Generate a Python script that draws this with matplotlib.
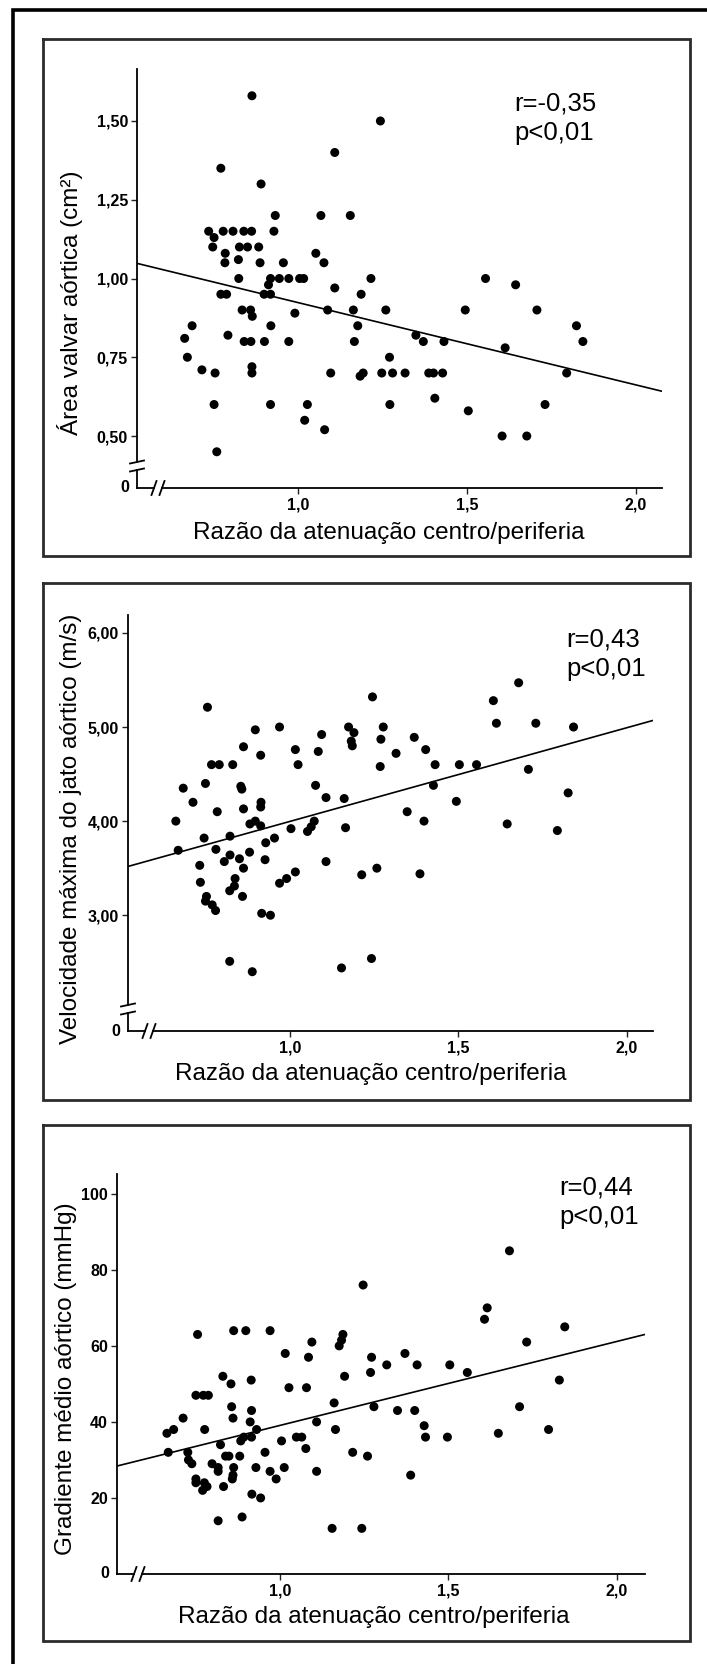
import matplotlib
matplotlib.use('Agg')
import numpy as np
import matplotlib.pyplot as plt

plt.rcParams['font.family'] = ['Liberation Sans', 'DejaVu Sans']

# ---- data ----
x_area = [0.864, 1.244, 1.109, 0.772, 0.891, 0.933, 1.068, 1.155, 0.736, 0.779, 0.808, 0.84, 0.863, 0.929,
          0.752, 0.748, 0.827, 0.851, 0.884, 0.785, 1.053, 0.824, 0.784, 0.888, 0.957, 1.077, 0.825, 0.919,
          0.945, 0.973, 1.005, 1.017, 1.216, 1.555, 0.913, 1.644, 1.109, 0.772, 0.789, 0.9, 0.919, 1.187,
          0.835, 0.86, 1.088, 1.164, 1.26, 1.495, 1.707, 0.865, 0.991, 0.687, 0.92, 1.177, 1.824, 1.349,
          0.793, 0.665, 0.841, 0.861, 0.901, 0.973, 1.167, 1.371, 1.432, 1.843, 1.613, 0.673, 1.271, 0.716,
          0.864, 0.755, 0.864, 1.097, 1.184, 1.193, 1.248, 1.28, 1.317, 1.387, 1.401, 1.428, 1.795, 1.405,
          0.752, 0.919, 1.028, 1.272, 1.731, 1.504, 1.02, 1.079, 1.604, 1.677, 0.76]
y_area = [1.58, 1.50, 1.40, 1.35, 1.30, 1.20, 1.20, 1.20, 1.15, 1.15, 1.15, 1.15, 1.15, 1.15,
          1.13, 1.10, 1.10, 1.10, 1.10, 1.08, 1.08, 1.06, 1.05, 1.05, 1.05, 1.05, 1.00, 1.00,
          1.00, 1.00, 1.00, 1.00, 1.00, 1.00, 0.98, 0.98, 0.97, 0.95, 0.95, 0.95, 0.95, 0.95,
          0.90, 0.90, 0.90, 0.90, 0.90, 0.90, 0.90, 0.88, 0.89, 0.85, 0.85, 0.85, 0.85, 0.82,
          0.82, 0.81, 0.80, 0.80, 0.80, 0.80, 0.80, 0.80, 0.80, 0.80, 0.78, 0.75, 0.75, 0.71,
          0.72, 0.70, 0.70, 0.70, 0.69, 0.70, 0.70, 0.70, 0.70, 0.70, 0.70, 0.70, 0.70, 0.62,
          0.60, 0.60, 0.60, 0.60, 0.60, 0.58, 0.55, 0.52, 0.50, 0.50, 0.45]

x_vel = [1.679, 1.245, 1.604, 0.755, 1.613, 1.73, 0.969, 1.174, 1.277, 1.842, 0.897, 1.19, 1.094, 1.369,
         1.27, 1.182, 1.185, 0.862, 1.016, 1.403, 1.084, 1.315, 0.913, 0.767, 0.79, 0.83, 1.024, 1.268,
         1.431, 1.503, 1.554, 1.708, 0.749, 1.426, 1.076, 0.854, 0.683, 0.857, 1.826, 1.107, 1.161, 0.712,
         1.494, 0.914, 0.913, 0.862, 0.784, 1.348, 1.072, 0.661, 0.897, 1.398, 0.881, 1.645, 1.063, 1.165,
         0.913, 1.003, 1.052, 1.794, 0.822, 0.745, 0.954, 0.928, 0.668, 0.78, 0.88, 0.822, 0.85, 0.805,
         0.926, 1.107, 0.732, 0.862, 1.258, 1.016, 1.213, 1.386, 0.837, 0.99, 0.969, 0.734, 0.835, 0.821,
         0.752, 0.859, 0.749, 0.769, 0.779, 0.916, 0.942, 1.242, 0.821, 1.153, 0.888]
y_vel = [5.47, 5.32, 5.28, 5.21, 5.04, 5.04, 5.00, 5.00, 5.00, 5.00, 4.97, 4.94, 4.92, 4.89,
         4.87, 4.85, 4.80, 4.79, 4.76, 4.76, 4.74, 4.72, 4.70, 4.60, 4.60, 4.60, 4.60, 4.58,
         4.60, 4.60, 4.60, 4.55, 4.40, 4.38, 4.38, 4.37, 4.35, 4.34, 4.30, 4.25, 4.24, 4.20,
         4.21, 4.20, 4.15, 4.13, 4.10, 4.10, 4.00, 4.00, 4.00, 4.00, 3.97, 3.97, 3.94, 3.93,
         3.95, 3.92, 3.89, 3.90, 3.84, 3.82, 3.82, 3.77, 3.69, 3.70, 3.67, 3.64, 3.60, 3.57,
         3.59, 3.57, 3.53, 3.50, 3.50, 3.46, 3.43, 3.44, 3.39, 3.39, 3.34, 3.35, 3.31, 3.26,
         3.20, 3.20, 3.15, 3.11, 3.05, 3.02, 3.00, 2.54, 2.51, 2.44, 2.40]

x_grad = [1.681, 1.247, 1.615, 1.607, 1.845, 0.863, 0.899, 0.971, 0.756, 1.187, 1.183, 1.095, 1.732, 1.176,
          1.016, 1.371, 1.085, 1.272, 1.317, 1.407, 1.504, 1.556, 1.269, 0.831, 1.192, 0.915, 1.829, 0.855,
          1.027, 1.079, 0.751, 0.773, 0.788, 1.161, 0.857, 1.279, 1.711, 1.349, 1.4, 0.916, 0.713, 0.861,
          0.912, 1.109, 1.428, 0.685, 0.777, 0.931, 1.165, 1.797, 0.665, 1.648, 0.893, 0.916, 1.049, 1.065,
          1.432, 1.497, 0.884, 1.005, 0.824, 1.077, 0.669, 0.727, 0.956, 1.216, 0.839, 0.849, 0.881, 1.26,
          0.729, 0.739, 0.799, 0.863, 0.929, 1.013, 0.817, 0.817, 0.971, 1.109, 1.388, 0.861, 0.859, 0.989,
          0.751, 0.751, 0.776, 0.833, 0.784, 0.771, 0.917, 0.943, 0.817, 0.888, 1.155, 1.243]
y_grad = [85, 76, 70, 67, 65, 64, 64, 64, 63, 63, 61.5, 61, 61, 60,
          58, 58, 57, 57, 55, 55, 55, 53, 53, 52, 52, 51, 51, 50,
          49, 49, 47, 47, 47, 45, 44, 44, 44, 43, 43, 43, 41, 41,
          40, 40, 39, 38, 38, 38, 38, 38, 37, 37, 36, 36, 36, 36,
          36, 36, 35, 35, 34, 33, 32, 32, 32, 32, 31, 31, 31, 31,
          30, 29, 29, 28, 28, 28, 28, 27, 27, 27, 26, 26, 25, 25,
          25, 24, 24, 23, 23, 22, 21, 20, 14, 15, 12, 12]

# regression lines (intercept, slope) as drawn in the figure
fit_area = (1.185, -0.2614)
fit_vel = (3.002, 0.995)
fit_grad = (16.97, 22.1)

stats_area = ['r=-0,35', 'p<0,01']
stats_vel = ['r=0,43', 'p<0,01']
stats_grad = ['r=0,44', 'p<0,01']

xticks = [1.0, 1.5, 2.0]
xticklabels = ['1,0', '1,5', '2,0']
yticks_area = [0.50, 0.75, 1.00, 1.25, 1.50]
ylabels_area = ['0,50', '0,75', '1,00', '1,25', '1,50']
yticks_vel = [3.0, 4.0, 5.0, 6.0]
ylabels_vel = ['3,00', '4,00', '5,00', '6,00']
yticks_grad = [20, 40, 60, 80, 100]
ylabels_grad = ['20', '40', '60', '80', '100']

xlabel = 'Razão da atenuação centro/periferia'

W, H = 707, 1664
fig = plt.figure(figsize=(W / 100, H / 100), dpi=100)

# overlay in pixel coordinates for frames, axis lines and labels
ov = fig.add_axes([0, 0, 1, 1], zorder=5)
ov.set_xlim(0, W)
ov.set_ylim(H, 0)
ov.axis('off')
ov.patch.set_alpha(0)

# outer frame (right/bottom run off the image)
ov.plot([12.5, 12.5, W + 5], [H + 5, 9.5, 9.5], color='black', lw=2.6, solid_joinstyle='miter')

panels = [
    dict(box=(43, 39, 690, 556), ax=(137, 69, 662, 488), xlim=(0.524, 2.077), ylim=(0.335, 1.665),
         ybreak=(462, 470), x=x_area, y=y_area, fit=fit_area, yt=yticks_area, ytl=ylabels_area,
         ylabel='Área valvar aórtica (cm²)', ylab_pos=(70, 303), xlab_pos=(389, 533),
         stats=stats_area, stats_pos=(514, 110, 140)),
    dict(box=(43, 583, 690, 1100), ax=(128, 615, 653, 1031), xlim=(0.519, 2.078), ylim=(1.77, 6.19),
         ybreak=(1005, 1013), x=x_vel, y=y_vel, fit=fit_vel, yt=yticks_vel, ytl=ylabels_vel,
         ylabel='Velocidade máxima do jato aórtico (m/s)', ylab_pos=(71, 829), xlab_pos=(371, 1074),
         stats=stats_vel, stats_pos=(566, 647, 676)),
    dict(box=(43, 1125, 690, 1641), ax=(117, 1174, 645, 1574), xlim=(0.517, 2.083), ylim=(0, 105.2),
         ybreak=None, x=x_grad, y=y_grad, fit=fit_grad, yt=yticks_grad, ytl=ylabels_grad,
         ylabel='Gradiente médio aórtico (mmHg)', ylab_pos=(66, 1379), xlab_pos=(374, 1617),
         stats=stats_grad, stats_pos=(559, 1194, 1224)),
]

for p in panels:
    l, t, r, b = p['box']
    ov.plot([l, r, r, l, l], [t, t, b, b, t], color='#2b2b2b', lw=2.0, solid_joinstyle='miter')

    al, at, ar, ab = p['ax']
    ax = fig.add_axes([al / W, 1 - ab / H, (ar - al) / W, (ab - at) / H], zorder=3)
    ax.patch.set_alpha(0)
    for s in ax.spines.values():
        s.set_visible(False)
    ax.set_xlim(*p['xlim'])
    ax.set_ylim(*p['ylim'])
    ax.scatter(p['x'], p['y'], s=42, color='black', edgecolors='none', zorder=3)
    xx = np.array(p['xlim'])
    ax.plot(xx, p['fit'][0] + p['fit'][1] * xx, color='black', lw=1.2, zorder=2)

    ax.set_xticks(xticks)
    ax.set_xticklabels(xticklabels)
    ax.set_yticks(p['yt'])
    ax.set_yticklabels(p['ytl'])
    ax.tick_params(length=4.5, width=1.0, pad=2, labelsize=11.5, color='#222222')
    for lab in ax.get_xticklabels() + ax.get_yticklabels():
        lab.set_fontweight('bold')

    # axis lines with breaks
    if p['ybreak']:
        y1, y2 = p['ybreak']
        ov.plot([al, al], [at, y1], color='black', lw=1.3)
        ov.plot([al, al], [y2, ab], color='black', lw=1.3)
        for yb in (y1, y2):
            ov.plot([al - 7, al + 7], [yb + 1.5, yb - 1.5], color='black', lw=1.3)
    else:
        ov.plot([al, al], [at, ab], color='black', lw=1.3)
    x1, x2 = al + 17, al + 25
    ov.plot([al, x1], [ab, ab], color='black', lw=1.3)
    ov.plot([x2, ar], [ab, ab], color='black', lw=1.3)
    for xb in (x1, x2):
        ov.plot([xb - 2.5, xb + 2.5], [ab + 7, ab - 7], color='black', lw=1.3)

    ov.text(al - 8, ab, '0', ha='right', va='center', fontsize=11.5, fontweight='bold')
    ov.text(p['ylab_pos'][0], p['ylab_pos'][1], p['ylabel'], rotation=90, ha='center', va='center',
            fontsize=17.5)
    ov.text(p['xlab_pos'][0], p['xlab_pos'][1], xlabel, ha='center', va='center', fontsize=17.5)
    sx, sy1, sy2 = p['stats_pos']
    ov.text(sx, sy1, p['stats'][0], ha='left', va='baseline', fontsize=18.5)
    ov.text(sx, sy2, p['stats'][1], ha='left', va='baseline', fontsize=18.5)

fig.savefig('out.png', dpi=100)
